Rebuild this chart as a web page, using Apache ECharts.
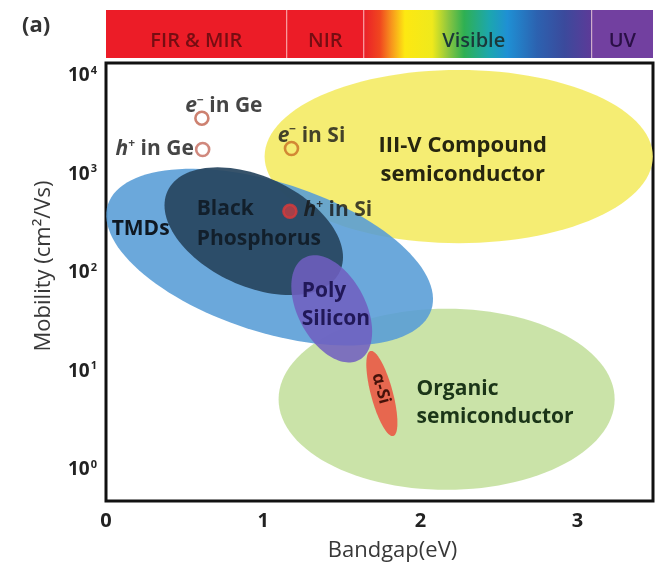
<!DOCTYPE html>
<html>
<head>
<meta charset="utf-8">
<script src="https://cdn.jsdelivr.net/npm/echarts@6/dist/echarts.min.js"></script>
<style>
  html, body { margin: 0; padding: 0; background: #fff; }
  #chart { width: 660px; height: 567px; }
</style>
</head>
<body>
<div id="chart"></div>
<script>
// Material families: centre bandgap (eV), centre mobility (cm²/Vs),
// half-spread in bandgap (eV), half-spread in mobility (decades), tilt (deg)
const regionNames = ['III-V Compound\nsemiconductor', 'Organic\nsemiconductor', 'TMDs',
                     'Black\nPhosphorus', 'Poly\nSilicon', 'α-Si'];
const regionBandgap = [2.244, 2.167, 1.041, 0.940, 1.436, 1.755];
const regionMobility = [1510, 5.2, 144, 264, 43, 5.95];
const regionBandgapSpread = [1.235, 1.069, 1.082, 0.605, 0.369, 0.280];
const regionMobilityDecades = [0.879, 0.919, 0.758, 0.556, 0.343, 0.111];
const regionTilt = [0, 0, 18, 25, 62, 75];

// Carrier mobilities in bulk Ge and Si
const carrierNames = ['e⁻ in Ge', 'h⁺ in Ge', 'e⁻ in Si', 'h⁺ in Si'];
const carrierBandgap = [0.61, 0.615, 1.18, 1.17];
const carrierMobility = [3700, 1780, 1820, 420];

// Spectral ranges along the bandgap axis (eV)
const bandNames = ['FIR & MIR', 'NIR', 'Visible', 'UV'];
const bandStart = [0, 1.15, 1.64, 3.09];
const bandEnd = [1.15, 1.64, 3.09, 3.48];

const X_MAX = 3.48;
const FONT = '"Open Sans", "Noto Sans", sans-serif';

// Appearance of each region and its caption
const regionLook = [
  { fill: 'rgba(244,236,108,0.95)', text: '#26250f', size: 22, lh: 29, align: 'center', dx: 4,    dy: 4 },
  { fill: 'rgba(199,225,163,0.95)', text: '#1b3518', size: 21, lh: 28, align: 'left',   dx: -30,  dy: 4 },
  { fill: 'rgba(86,156,214,0.88)',  text: '#0f1822', size: 21, lh: 29, align: 'left',   dx: -158, dy: -28 },
  { fill: 'rgba(40,70,96,0.93)',    text: '#121f2b', size: 21, lh: 30, align: 'left',   dx: -57,  dy: -7 },
  { fill: 'rgba(112,94,192,0.86)',  text: '#211858', size: 21, lh: 28, align: 'left',   dx: -30,  dy: -4 },
  { fill: 'rgba(232,96,74,0.95)',   text: '#45120a', size: 17, lh: 18, align: 'center', dx: -1,   dy: -5, rot: -75 }
];

const carrierLook = [
  { stroke: '#c0624c', fill: 'rgba(0,0,0,0)', dx: 22,  dy: -12 },
  { stroke: '#c46a5c', fill: 'rgba(0,0,0,0)', dx: -48, dy: 0 },
  { stroke: '#c96e24', fill: 'rgba(0,0,0,0)', dx: 20,  dy: -13 },
  { stroke: '#d83a3a', fill: 'rgba(222,58,58,0.85)', dx: 48, dy: -1 }
];

const bandLook = [
  { fill: '#ec1c27', text: '#760d12' },
  { fill: '#ec1c27', text: '#760d12' },
  { fill: null,      text: '#1b3839' },
  { fill: '#7240a0', text: '#2a0f46' }
];

const visibleGradient = new echarts.graphic.LinearGradient(0, 0, 1, 0, [
  { offset: 0.00, color: '#ea1f29' },
  { offset: 0.07, color: '#f0461f' },
  { offset: 0.12, color: '#f7931d' },
  { offset: 0.18, color: '#fde812' },
  { offset: 0.30, color: '#efe91c' },
  { offset: 0.37, color: '#8dc63f' },
  { offset: 0.44, color: '#2fb052' },
  { offset: 0.55, color: '#1ca7ae' },
  { offset: 0.63, color: '#1f90d4' },
  { offset: 0.76, color: '#2c62b0' },
  { offset: 0.88, color: '#3b4a9c' },
  { offset: 1.00, color: '#5d3a98' }
]);

function ellipsePoints(api, i) {
  const c = api.coord([regionBandgap[i], regionMobility[i]]);
  const pxPerEv = api.coord([regionBandgap[i] + 1, regionMobility[i]])[0] - c[0];
  const pxPerDecade = c[1] - api.coord([regionBandgap[i], regionMobility[i] * 10])[1];
  const a = regionBandgapSpread[i] * pxPerEv;
  const b = regionMobilityDecades[i] * pxPerDecade;
  const th = regionTilt[i] * Math.PI / 180;
  const pts = [];
  for (let k = 0; k < 120; k++) {
    const t = k / 120 * Math.PI * 2;
    const ex = a * Math.cos(t), ey = b * Math.sin(t);
    pts.push([c[0] + ex * Math.cos(th) - ey * Math.sin(th),
              c[1] + ex * Math.sin(th) + ey * Math.cos(th)]);
  }
  return { c, pts };
}

const chart = echarts.init(document.getElementById('chart'));

chart.setOption({
  backgroundColor: '#fff',
  animation: false,
  grid: [
    { left: 106, top: 63, width: 547, height: 440, show: true,
      borderColor: '#111', borderWidth: 3, backgroundColor: '#fff' },
    { left: 106, top: 10, width: 547, height: 48 }
  ],
  xAxis: [
    {
      type: 'value', gridIndex: 0, min: 0, max: X_MAX, interval: 1,
      name: 'Bandgap(eV)', nameLocation: 'middle', nameGap: 39,
      nameTextStyle: { fontFamily: FONT, fontSize: 22, color: '#383838', padding: [0, 0, 0, 26] },
      axisLine: { show: false }, axisTick: { show: false }, splitLine: { show: false },
      axisLabel: { showMaxLabel: false, margin: 10, fontFamily: FONT, fontSize: 20,
                   fontWeight: 'bold', color: '#222' }
    },
    { type: 'value', gridIndex: 1, min: 0, max: X_MAX, show: false }
  ],
  yAxis: [
    {
      type: 'log', gridIndex: 0, logBase: 10, min: 0.483, max: 13430,
      name: 'Mobility (cm²/Vs)', nameLocation: 'middle', nameGap: 51,
      nameTextStyle: { fontFamily: FONT, fontSize: 22, color: '#383838', padding: [0, 0, 0, 32] },
      axisLine: { show: false }, axisTick: { show: false }, splitLine: { show: false },
      axisLabel: {
        showMinLabel: false, showMaxLabel: false, margin: 9,
        formatter: v => '{b|10}{s|' + Math.round(Math.log10(v)) + '}',
        rich: {
          b: { fontFamily: FONT, fontSize: 19, fontWeight: 'bold', color: '#222' },
          s: { fontFamily: FONT, fontSize: 11, fontWeight: 'bold', color: '#222', padding: [0, 0, 10, 1] }
        }
      }
    },
    { type: 'value', gridIndex: 1, min: 0, max: 1, show: false }
  ],
  graphic: [
    { type: 'text', left: 22, top: 15,
      style: { text: '(a)', fontFamily: FONT, fontSize: 22, fontWeight: 'bold', fill: '#333' } }
  ],
  series: [
    // spectral ranges bar
    {
      type: 'custom', xAxisIndex: 1, yAxisIndex: 1,
      data: bandNames.map((n, i) => i),
      renderItem: (params, api) => {
        const i = params.dataIndex;
        const p0 = api.coord([bandStart[i], 1]);
        const p1 = api.coord([bandEnd[i], 0]);
        const look = bandLook[i];
        return {
          type: 'group',
          children: [
            { type: 'rect', shape: { x: p0[0], y: p0[1], width: p1[0] - p0[0], height: p1[1] - p0[1] },
              style: { fill: look.fill || visibleGradient } },
            { type: 'line', shape: { x1: p0[0], y1: p0[1], x2: p0[0], y2: p1[1] },
              style: { stroke: i === 0 ? 'rgba(0,0,0,0)' : 'rgba(255,220,220,0.75)', lineWidth: 1 } },
            { type: 'text', x: (p0[0] + p1[0]) / 2 - (i === 2 ? 4 : 0), y: (p0[1] + p1[1]) / 2 + 7,
              style: { text: bandNames[i], fontFamily: FONT, fontSize: 20, fontWeight: 600,
                       fill: look.text, align: 'center', verticalAlign: 'middle' } }
          ]
        };
      }
    },
    // material regions
    {
      type: 'custom', xAxisIndex: 0, yAxisIndex: 0, clip: true, z: 2,
      data: regionNames.map((n, i) => [regionBandgap[i], regionMobility[i]]),
      renderItem: (params, api) => {
        const i = params.dataIndex;
        const e = ellipsePoints(api, i);
        return { type: 'polygon', shape: { points: e.pts }, style: { fill: regionLook[i].fill } };
      }
    },
    // region captions
    {
      type: 'custom', xAxisIndex: 0, yAxisIndex: 0, z: 4, silent: true,
      data: regionNames.map((n, i) => [regionBandgap[i], regionMobility[i]]),
      renderItem: (params, api) => {
        const i = params.dataIndex;
        const look = regionLook[i];
        const c = api.coord([regionBandgap[i], regionMobility[i]]);
        return {
          type: 'text', x: c[0] + look.dx, y: c[1] + look.dy,
          rotation: (look.rot || 0) * Math.PI / 180,
          style: { text: regionNames[i], fontFamily: FONT, fontSize: look.size, fontWeight: 'bold',
                   lineHeight: look.lh, fill: look.text, align: look.align, verticalAlign: 'middle' }
        };
      }
    },
    // carrier mobilities
    {
      type: 'scatter', xAxisIndex: 0, yAxisIndex: 0, z: 5,
      symbol: 'circle', symbolSize: 13,
      data: carrierNames.map((n, i) => ({
        value: [carrierBandgap[i], carrierMobility[i]],
        itemStyle: { color: carrierLook[i].fill, borderColor: carrierLook[i].stroke, borderWidth: 2.6 },
        label: { offset: [carrierLook[i].dx, carrierLook[i].dy] }
      })),
      label: {
        show: true, position: 'inside', align: 'center', verticalAlign: 'middle',
        formatter: p => {
          const n = carrierNames[p.dataIndex];
          return '{i|' + n[0] + '}{s|' + (n[1] === '⁻' ? '−' : '+') + '}{t|' + n.slice(2) + '}';
        },
        rich: {
          i: { fontFamily: FONT, fontSize: 21, fontWeight: 'bold', fontStyle: 'italic', color: '#161616' },
          s: { fontFamily: FONT, fontSize: 12, fontWeight: 'bold', color: '#161616', padding: [0, 0, 11, 0] },
          t: { fontFamily: FONT, fontSize: 21, fontWeight: 'bold', color: '#161616' }
        }
      }
    }
  ]
});
</script>
</body>
</html>
